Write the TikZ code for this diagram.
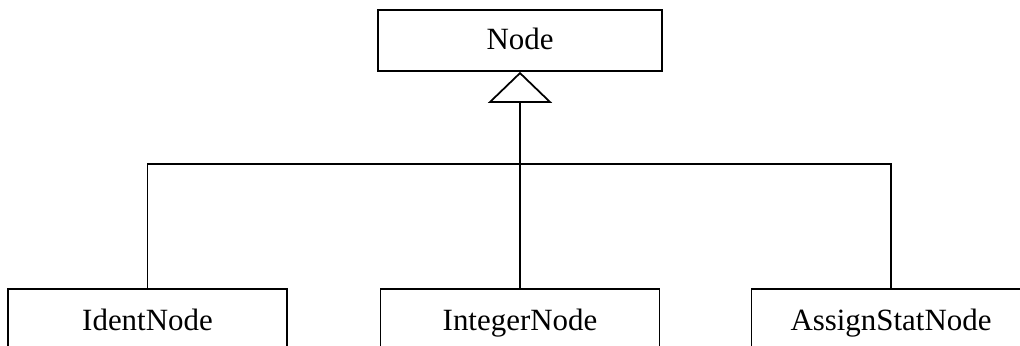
\documentclass[tikz,border=0pt]{standalone}
\usepackage{fontspec}
\setmainfont{Liberation Serif}
\usepackage{tikz}
\usetikzlibrary{positioning,arrows.meta}
\tikzset{
  classnode/.style = {align=center, inner sep=0pt, text centered,
    text height=12pt, text depth=2pt,
    font=\fontsize{17.6}{20}\selectfont},
  cls_top/.style = {classnode, rectangle, draw=black, line width=1pt,
    minimum width=5.68cm, minimum height=1.22cm},% classe de base
  cls_sub/.style = {classnode, rectangle, draw=black, line width=1pt,
    minimum width=5.58cm, minimum height=1.32cm},% sous-classe
  inherit/.style = {line width=1pt,
    -{Triangle[open, length=0.62cm, width=1.28cm, line width=1pt]}}
}

\begin{document}
\begin{tikzpicture}[x=0.02cm, y=-0.02cm]
\useasboundingbox (0,0) rectangle (1020,345);
% classe de base
\node [cls_top] (base) at (520,40.5) {Node};
% sous-classes
\node [cls_sub] (ident)   at (147.5,322) {IdentNode};
\node [cls_sub] (integer) at (520,322)   {IntegerNode};
\node [cls_sub] (assign)  at (891,322)   {AssignStatNode};
\coordinate (hub) at (520,164);
% heritage
\draw [inherit] (integer.north) -- (base.south);
\draw [line width=1pt] (ident.north) |- (hub) -| (assign.north);
\end{tikzpicture}
\end{document}
